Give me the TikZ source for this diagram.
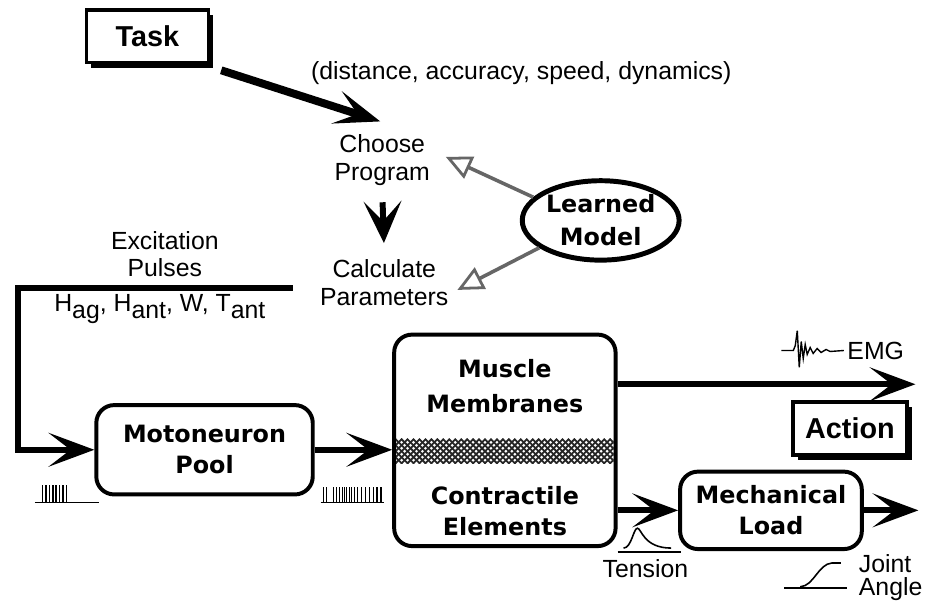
\documentclass[tikz,border=0pt]{standalone}
\usepackage{fontspec}
\setmainfont{Liberation Sans}
\newfontfamily\chicago{DejaVu Sans}
\usetikzlibrary{arrows.meta,shapes.geometric,shadows}
\newcommand{\lowsub}[1]{\raisebox{-0.55ex}{#1}}

\begin{document}
\begin{tikzpicture}[x=0.5pt, y=-0.5pt,
  lbl/.style={align=center, font=\fontsize{12.5}{14}\selectfont},
  boxtxt/.style={align=center, font=\chicago\bfseries\fontsize{12}{15.5}\selectfont},
  rbox/.style={boxtxt, draw, line width=2pt, rounded corners=9pt},
  sbox/.style={draw, line width=1.8pt, fill=white, font=\bfseries\fontsize{14.5}{16}\selectfont,
    drop shadow={shadow xshift=2.5pt, shadow yshift=-2.5pt, opacity=1, fill=black}},
  arr/.style={line width=3pt, -{Stealth[length=23pt, width=17pt, inset=11pt]}},
  hollow/.style={line width=1.8pt, draw=black!60, -{Triangle[open, length=13pt, width=12pt, line width=1.4pt]}},
  hatch/.style={line width=0.9pt, black!85}]
\fill[white] (0,0) rectangle (929,605);

\node[sbox, minimum width=61.5pt, minimum height=26.5pt] (task) at (148.5,36.5) {Task};
\node[lbl] (goal) at (525,74) {(distance, accuracy, speed, dynamics)};
\node[lbl] (choose) at (385,161) {Choose\\Program};
\node[lbl] (calc) at (387,285) {Calculate\\Parameters};
\node[boxtxt, draw, ellipse, line width=2.5pt, inner sep=0pt, minimum width=79pt, minimum height=40pt,
  font=\chicago\bfseries\fontsize{12}{16.5}\selectfont] (model) at (605,222) {Learned\\Model};

\draw[arr, line width=4pt] ([shift={(11,6)}]task.south east) -- ([shift={(-2,-6)}]choose.north);
\draw[line width=3pt, -{Stealth[length=21pt, width=19pt, inset=10pt]}, shorten <=5pt, shorten >=5pt] (choose.south) -- (calc.north);
\draw[hollow] (model.161) -- ([shift={(9,-3)}]choose.east);
\draw[hollow] (model.204) -- ([shift={(2,7)}]calc.east);

% excitation pulses into the pool
\node[lbl] (excite) at (166,256) {Excitation\\Pulses};
\node[lbl] (hpar) at (161,311) {H\lowsub{ag}, H\lowsub{ant}, W, T\lowsub{ant}};
\node[rbox, minimum width=109pt, minimum height=45pt] (moto) at (206,453) {Motoneuron\\Pool};
\coordinate (pend) at (295,290);
\draw[arr] (pend) -| ([shift={(-77,0)}]moto.west) -- (moto.west);

\node[rbox, minimum width=111.5pt, minimum height=106.5pt] (muscle) at (508.5,443.5) {};
\node[boxtxt, font=\chicago\bfseries\fontsize{12}{17.5}\selectfont] (membr) at (508.5,389) {Muscle\\Membranes};
\node[boxtxt] (contr) at (508.5,515) {Contractile\\Elements};
\begin{scope}
\clip (399,442) rectangle (618,467);
\foreach \i in {368,374,...,620} {
  \draw[hatch] (\i,442) -- ++(25,25);
  \draw[hatch] (\i,467) -- ++(25,-25);
}
\end{scope}
\draw[arr] (moto.east) -- (moto.east -| muscle.west);

\node[rbox, minimum width=91.5pt, minimum height=39pt, inner sep=1pt] (mech) at (776.5,514) {Mechanical\\Load};
\node[sbox, minimum width=57.5pt, minimum height=26.5pt] (action) at (856,431.5) {Action};
\coordinate (emgend) at (922,387);
\coordinate (loadend) at (925,514);
\draw[arr] (muscle.east |- emgend) -- (emgend);
\draw[arr] (muscle.east |- mech.west) -- (mech.west);
\draw[arr] (mech.east) -- (loadend);

\node[lbl] (emg) at (882,353) {EMG};
\node[lbl] (tension) at (650,573) {Tension};
\node[lbl, anchor=west, align=left, font=\fontsize{12.5}{11.5}\selectfont] (angle) at (858,582) {Joint\\Angle};

% little traces
\draw[line width=0.8pt] (35,506) -- (100,506);
\foreach \s in {43,46.4,...,68} \draw[line width=0.75pt] (\s,506) -- (\s,488);
\draw[line width=0.8pt] (323,506) -- (387,506);
\foreach \s in {326,329,336,339,342,345,347,349,352,354,357,360,364,368,372,376,380,384} \draw[line width=0.8pt] (\s,506) -- (\s,490);
\draw[line width=0.7pt] plot coordinates {(787,353) (799,353) (801,348) (803,333) (805,370) (807,344) (809,361) (811,347) (813,357) (816,350) (819,356) (823,351) (827,355) (832,352) (836,354) (850,353)};
\draw[line width=0.8pt] (622,556) -- (686,556);
\draw[line width=0.8pt] (628,552) .. controls (636,552) and (638,532) .. (642,532) .. controls (646,532) and (648,552) .. (676,552);
\draw[line width=0.8pt] (790,592) -- (853,592);
\draw[line width=0.8pt] (806,591) .. controls (820,590) and (824,568) .. (838,567) -- (847,567);
\end{tikzpicture}
\end{document}
